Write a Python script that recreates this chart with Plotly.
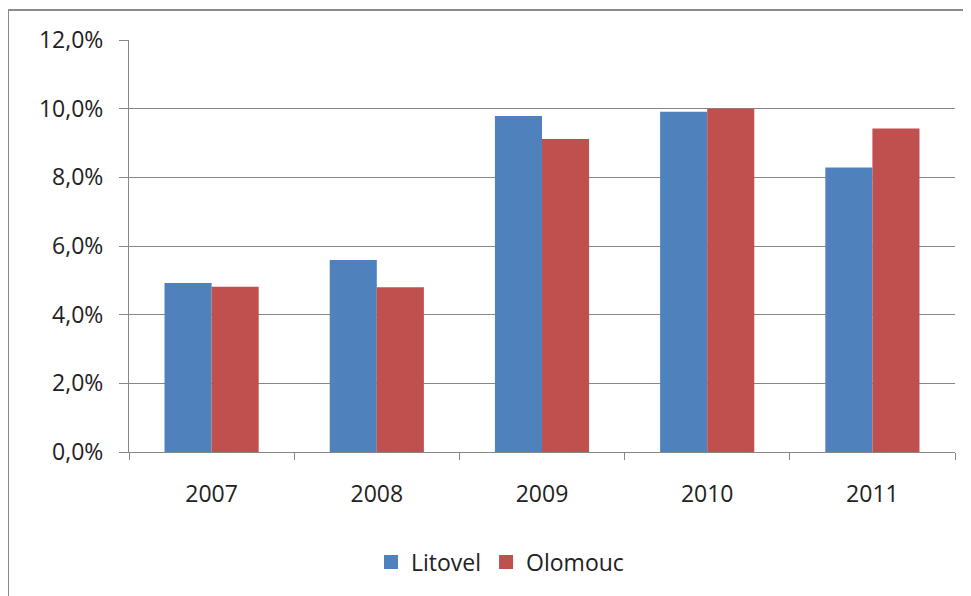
import plotly.graph_objects as go

years = ["2007", "2008", "2009", "2010", "2011"]
litovel = [0.0492, 0.0559, 0.0979, 0.0991, 0.0829]
olomouc = [0.0481, 0.0480, 0.0912, 0.1000, 0.0942]
series_names = ["Litovel", "Olomouc"]
colors = ["#4F81BD", "#C0504D"]
y_ticks = [0, 0.02, 0.04, 0.06, 0.08, 0.10, 0.12]

# page body has an 8px default margin; layout coordinates below compensate
OFF = 8
W, H = 971 - OFF, 596 - OFF
L, T = 129 - OFF, 40 - OFF
R = W - (955 - OFF)
B = H - (452 - OFF)
pw, ph = W - L - R, H - T - B

fig = go.Figure()
for name, vals, col in zip(series_names, [litovel, olomouc], colors):
    fig.add_trace(go.Bar(x=years, y=vals, name=name, marker_color=col,
                         marker_line_width=0, showlegend=False))
# legend entries with larger square swatches
for name, col in zip(series_names, colors):
    fig.add_trace(go.Scatter(x=[None], y=[None], mode="markers", name=name,
                             marker=dict(symbol="square", size=14, color=col)))

font_family = "Open Sans, Liberation Sans, sans-serif"
fig.update_layout(
    width=W, height=H,
    margin=dict(l=L, r=R, t=T, b=B, autoexpand=False),
    paper_bgcolor="white", plot_bgcolor="white",
    barmode="group", bargap=0.43, bargroupgap=0,
    separators=",.",
    font=dict(family=font_family, size=23, color="#222222"),
    showlegend=True,
    legend=dict(orientation="h", x=(500 - 129) / pw, xanchor="center",
                y=(452 - 562) / ph, yanchor="middle",
                font=dict(size=23, color="#222222"),
                itemwidth=30, tracegroupgap=0),
    xaxis=dict(type="category", showline=True, linecolor="#878787", linewidth=1,
               ticks="outside", tickson="boundaries", ticklen=7, tickcolor="#878787",
               showgrid=False, ticklabelstandoff=21, automargin=False),
    yaxis=dict(range=[0, 0.12], tickvals=y_ticks, tickformat=".1%",
               showline=True, linecolor="#878787", linewidth=1,
               ticks="outside", ticklen=9, tickcolor="#878787",
               showgrid=True, gridcolor="#878787", gridwidth=1,
               zeroline=False, ticklabelstandoff=11, automargin=False),
)

# outer chart border
fig.add_shape(type="rect", xref="paper", yref="paper",
              x0=(8 - 129) / pw, x1=(990 - 129) / pw,
              y0=(452 - 610) / ph, y1=(452 - 10) / ph,
              line=dict(color="#8a8a8a", width=2), fillcolor="rgba(0,0,0,0)",
              layer="below")

fig.write_html("out.html")
